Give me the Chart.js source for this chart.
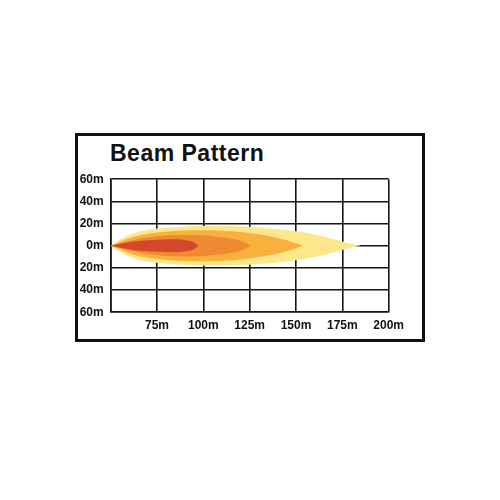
<!DOCTYPE html>
<html>
<head>
<meta charset="utf-8">
<script src="https://cdn.jsdelivr.net/npm/chart.js@4"></script>
<style>
  html, body { margin: 0; padding: 0; background: #fff; }
  body { width: 500px; height: 500px; position: relative; overflow: hidden; }
  .frame { position: absolute; left: 75px; top: 133px; width: 350px; height: 209px;
    border: 3px solid #111; box-sizing: border-box; }
  .title { position: absolute; left: 110px; top: 141px; font: bold 23px/24px "Liberation Sans", Arial, sans-serif;
    letter-spacing: 0.5px; color: #111; white-space: nowrap; }
  .chart-box { position: absolute; left: 60px; top: 165px; width: 350px; height: 175px; }
</style>
</head>
<body>
<div class="frame"></div>
<div class="title">Beam Pattern</div>
<div class="chart-box"><canvas id="beam" width="350" height="175"></canvas></div>
<script>
// beam outlines: distance (m) and half-width (m) for each zone, outer to inner
const yellowX = [50, 54, 59, 66.5, 75.5, 86, 100, 115, 130, 142, 152, 160, 170, 179, 185];
const yellowW = [0, 4.4, 9, 13.2, 15.5, 17, 17.9, 17.8, 16.5, 14.6, 12.6, 10.2, 6, 2, 0];
const lightX = [50, 54, 59, 66.5, 75.5, 86, 100, 115, 128, 137.5, 146, 154];
const lightW = [0, 2.8, 6.2, 9.8, 12, 13.5, 13.9, 13, 10.8, 8, 4.5, 0];
const orangeX = [50, 55, 59, 66.5, 75.5, 86, 98, 108, 115, 121, 125.5];
const orangeW = [0, 2.2, 3.8, 6.5, 8.5, 9.6, 9.4, 8, 6.5, 4, 0];
const redX = [50, 56, 62, 70, 75.5, 86, 91, 95, 97.2];
const redW = [0, 2, 3.8, 5, 5.5, 5.8, 4.8, 3.2, 0];

const xTickLabels = ['', '75m', '100m', '125m', '150m', '175m', '200m'];
const yTickLabels = ['60m', '40m', '20m', '0m', '20m', '40m', '60m'];

const zones = [
  { xs: redX, ws: redW, color: '#d3482b' },
  { xs: orangeX, ws: orangeW, color: '#ee8a31' },
  { xs: lightX, ws: lightW, color: '#f9b13e' },
  { xs: yellowX, ws: yellowW, color: '#fee68b' },
];

const LABEL_FONT = { family: '"Liberation Sans Narrow", "Liberation Sans", Arial, sans-serif', size: 12, weight: 'bold' };
const GRID = '#151515';

const datasets = [];
zones.forEach((z) => {
  const base = { borderWidth: 0, borderColor: z.color, backgroundColor: z.color, pointRadius: 0,
    cubicInterpolationMode: 'monotone' };
  datasets.push({ ...base, data: z.xs.map((x, i) => ({ x, y: z.ws[i] })), fill: '+1' });
  datasets.push({ ...base, data: z.xs.map((x, i) => ({ x, y: -z.ws[i] })), fill: false });
});

new Chart(document.getElementById('beam'), {
  type: 'line',
  data: { datasets },
  options: {
    responsive: false, animation: false,
    layout: { padding: { top: 11.7, right: 20.7, left: 0, bottom: 0 } },
    plugins: { legend: { display: false }, tooltip: { enabled: false } },
    scales: {
      x: {
        type: 'linear', min: 50, max: 200,
        afterFit: (a) => { a.height = 27.7; },
        grid: { color: GRID, lineWidth: 1.6, drawTicks: false },
        border: { color: GRID, width: 1.6 },
        ticks: { stepSize: 25, padding: 6, color: '#111', font: LABEL_FONT, maxRotation: 0,
          callback: (v, i) => xTickLabels[i] },
      },
      y: {
        type: 'linear', min: -60, max: 60,
        afterFit: (a) => { a.width = 50.7; },
        grid: { color: GRID, lineWidth: 1.6, drawTicks: false },
        border: { color: GRID, width: 1.6 },
        ticks: { stepSize: 20, padding: 7, color: '#111', font: LABEL_FONT,
          callback: (v, i) => yTickLabels[i] },
      },
    },
  },
});
</script>
</body>
</html>
